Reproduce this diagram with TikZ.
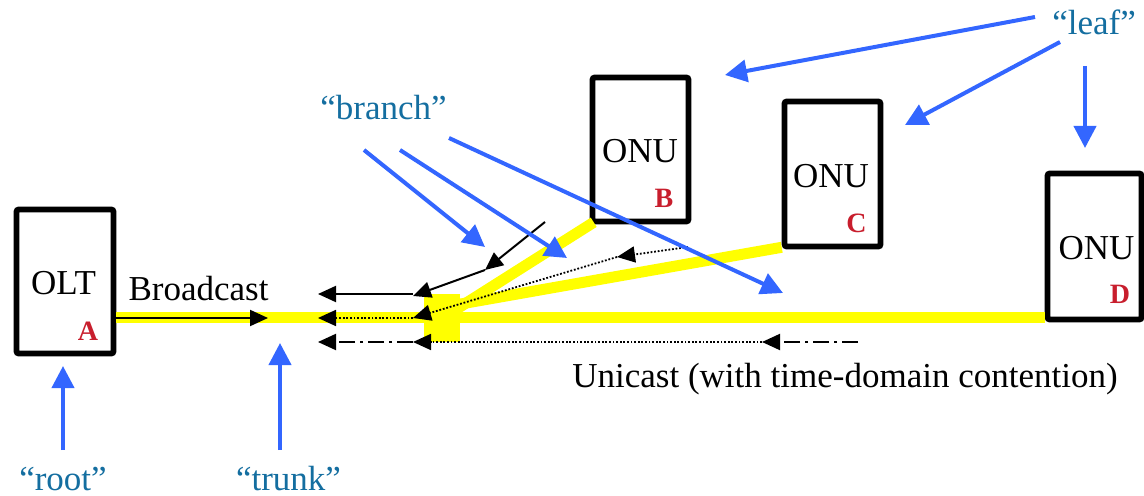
\documentclass[tikz,border=0pt]{standalone}
\usepackage{fontspec}
\setmainfont{Liberation Serif}
\usetikzlibrary{arrows.meta}
\definecolor{ptrblue}{RGB}{51,102,255}
\definecolor{termblue}{RGB}{20,110,160}
\definecolor{tagred}{RGB}{200,30,45}
\definecolor{fiberyellow}{RGB}{255,255,0}

\begin{document}
\begin{tikzpicture}[x=0.5pt,y=-0.5pt,
  unit/.style={draw=black, line width=2.8pt, rounded corners=1pt,
    minimum width=48pt, minimum height=72.5pt, inner sep=0pt},
  caption/.style={font=\fontsize{17.5}{20}\selectfont, inner sep=0pt, anchor=base},
  tag/.style={text=tagred, font=\fontsize{14}{16}\selectfont\bfseries, inner sep=0pt, anchor=base},
  term/.style={text=termblue, font=\fontsize{17.5}{20}\selectfont, inner sep=0pt, anchor=base},
  fiber/.style={draw=fiberyellow, line width=5.5pt},
  pointer/.style={draw=ptrblue, line width=2pt, -{Triangle[length=11pt,width=11pt]}},
  sig/.style={draw=black, line width=1pt, -{Triangle[length=9pt,width=8pt]}},
  sigdot/.style={sig, line width=0.9pt, dash pattern=on 0.9pt off 0.9pt},
  sigdash/.style={sig, dash pattern=on 8pt off 2.5pt on 1.5pt off 2.5pt}
]
\useasboundingbox (0,0) rectangle (1144,496);

% ---- terminals ----
\node[unit, minimum width=48.5pt, minimum height=72pt] (OLT) at (65,281.5) {};
\node[unit, minimum height=72pt] (B) at (640.5,149.5) {};
\node[unit] (C) at (832.5,174) {};
\node[unit, minimum width=47pt, minimum height=73pt] (D) at (1094.5,246.5) {};

\node[caption] (oltname) at (63.5,295) {OLT};
\node[tag] (tagA) at (88,340) {A};
\node[caption] (onuB) at (640,163) {ONU};
\node[tag] (tagB) at (664,208) {B};
\node[caption] (onuC) at (831,188) {ONU};
\node[tag] (tagC) at (856.5,233) {C};
\node[caption] (onuD) at (1096.5,260) {ONU};
\node[tag] (tagD) at (1120,304) {D};

% ---- fiber tree ----
\coordinate (trunkL) at (OLT.east |- 0,318);
\coordinate (trunkR) at (D.west |- 0,318);
\coordinate (forkB) at (452,312);
\coordinate (forkC) at (455,305);
\fill[fiberyellow] (424,294) rectangle (460,342);
\draw[fiber] (trunkL) -- (trunkR);
\draw[fiber] (forkB) -- ([xshift=2pt,yshift=1pt]B.south west);
\draw[fiber] (forkC) -- ([yshift=1pt]C.south west);

% ---- downstream broadcast ----
\node[caption] (bcast) at (198.5,300) {Broadcast};
\coordinate (bcastTip) at (268,318);
\draw[sig] (trunkL) -- (bcastTip);

% ---- upstream signals ----
\coordinate (r1a) at (413,294);
\coordinate (r1b) at (318,294);
\coordinate (r2a) at (413,318);
\coordinate (r2b) at (318,318);
\coordinate (r3a) at (413,342);
\coordinate (r3b) at (318,342);
\coordinate (fromB) at (545,222);
\coordinate (midB) at (485,270);
\coordinate (fromC) at (688,247);
\coordinate (midC) at (617,257);
\coordinate (fromD) at (858,342);
\coordinate (midD) at (762,342);

\draw[sig] (fromB) -- (midB);
\draw[sig] (midB) -- ([yshift=-1pt]r1a);
\draw[sig] (r1a) -- (r1b);

\draw[sigdot] (fromC) -- (midC);
\draw[sigdot] (midC) -- (r2a);
\draw[sigdot] (r2a) -- (r2b);

\draw[sigdash] (fromD) -- (midD);
\draw[sigdot] (midD) -- (r3a);
\draw[sigdash] (r3a) -- (r3b);

\node[caption] (ucast) at (845,387) {Unicast (with time-domain contention)};

% ---- terminology ----
\node[term] (root) at (63,490) {``root''};
\node[term] (trunk) at (288.5,490) {``trunk''};
\node[term] (branch) at (383.5,120) {``branch''};
\node[term] (leaf) at (1094,35) {``leaf''};

\coordinate (rootS) at (63,450);
\coordinate (rootT) at (63,366);
\coordinate (trunkS) at (280,450);
\coordinate (trunkT) at (280,343);
\coordinate (br1S) at (364,150);
\coordinate (br1T) at (485,247);
\coordinate (br2S) at (400,150);
\coordinate (br2T) at (567,258);
\coordinate (br3S) at (449,138);
\coordinate (br3T) at (783,293);
\coordinate (lf1S) at (1035,17);
\coordinate (lf1T) at (725,75);
\coordinate (lf2S) at (1060,42);
\coordinate (lf2T) at (905,125);
\coordinate (lf3S) at (1085,66);
\coordinate (lf3T) at (1085,148);

\draw[pointer] (rootS) -- (rootT);
\draw[pointer] (trunkS) -- (trunkT);
\draw[pointer] (br1S) -- (br1T);
\draw[pointer] (br2S) -- (br2T);
\draw[pointer] (br3S) -- (br3T);
\draw[pointer] (lf1S) -- (lf1T);
\draw[pointer] (lf2S) -- (lf2T);
\draw[pointer] (lf3S) -- (lf3T);
\end{tikzpicture}
\end{document}
